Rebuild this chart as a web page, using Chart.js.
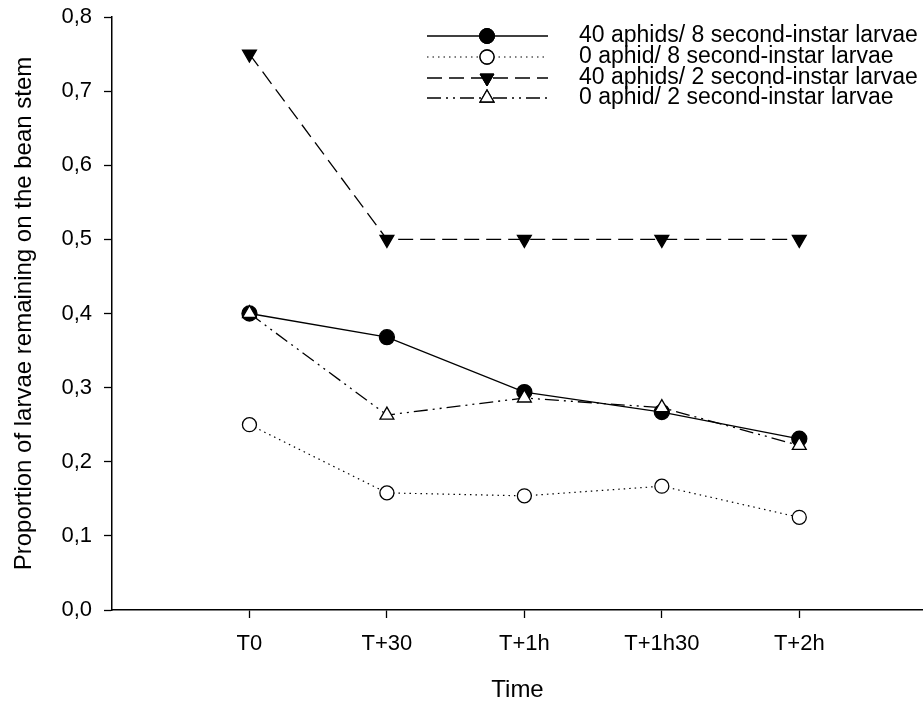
<!DOCTYPE html>
<html>
<head>
<meta charset="utf-8">
<script src="https://cdn.jsdelivr.net/npm/chart.js@4/dist/chart.umd.min.js"></script>
<style>
  html, body { margin: 0; padding: 0; background: #fff; }
  #wrap { width: 923px; height: 707px; position: relative; }
</style>
</head>
<body>
<div id="wrap"><canvas id="larvaeChart"></canvas></div>
<script>
// categories on the x axis
const timeLabels = ['T0', 'T+30', 'T+1h', 'T+1h30', 'T+2h'];

// proportion of larvae remaining
const aphids40Larvae8 = [0.400, 0.368, 0.294, 0.267, 0.231];
const aphids0Larvae8  = [0.250, 0.158, 0.154, 0.167, 0.125];
const aphids40Larvae2 = [0.750, 0.500, 0.500, 0.500, 0.500];
const aphids0Larvae2  = [0.400, 0.263, 0.286, 0.273, 0.222];

const seriesNames = [
  '40 aphids/ 8 second-instar larvae',
  '0 aphid/ 8 second-instar larvae',
  '40 aphids/ 2 second-instar larvae',
  '0 aphid/ 2 second-instar larvae'
];

const yTicks = [0, 0.1, 0.2, 0.3, 0.4, 0.5, 0.6, 0.7, 0.8];

const FONT = "'Liberation Sans', Arial, sans-serif";

function toPoints(values) {
  // x = index + 1 so the axis keeps an empty slot on the left
  return values.map((v, i) => ({ x: i + 1, y: v }));
}

const datasets = [
  {
    label: seriesNames[0],
    data: toPoints(aphids40Larvae8),
    borderColor: '#000',
    borderWidth: 1.3,
    pointStyle: 'circle',
    pointRadius: 7.5,
    pointBackgroundColor: '#000',
    pointBorderColor: '#000',
    order: 1
  },
  {
    label: seriesNames[1],
    data: toPoints(aphids0Larvae8),
    borderColor: '#000',
    borderWidth: 1.2,
    borderDash: [1.5, 4],
    pointStyle: 'circle',
    pointRadius: 7,
    pointBackgroundColor: '#fff',
    pointBorderColor: '#000',
    pointBorderWidth: 1.3,
    order: 2
  },
  {
    label: seriesNames[2],
    data: toPoints(aphids40Larvae2),
    borderColor: '#000',
    borderWidth: 1.3,
    borderDash: [15, 7],
    pointStyle: 'triangle',
    pointRotation: 180,
    pointRadius: 8,
    pointBackgroundColor: '#000',
    pointBorderColor: '#000',
    order: 3
  },
  {
    label: seriesNames[3],
    data: toPoints(aphids0Larvae2),
    borderColor: '#000',
    borderWidth: 1.3,
    borderDash: [14, 5, 2, 5, 2, 5],
    pointStyle: 'triangle',
    pointRadius: 8,
    pointBackgroundColor: '#fff',
    pointBorderColor: '#000',
    pointBorderWidth: 1.3,
    order: 0
  }
];

// legend in the upper right: line sample with the marker in the middle, then text
const lineLegend = {
  id: 'lineLegend',
  afterDraw(chart) {
    const ctx = chart.ctx;
    const x0 = 427, x1 = 548, xm = 487, tx = 579;
    const rows = [36, 57, 78, 98];
    ctx.save();
    datasets.forEach((ds, i) => {
      const y = rows[i];
      ctx.strokeStyle = ds.borderColor;
      ctx.lineWidth = ds.borderWidth;
      ctx.setLineDash(ds.borderDash || []);
      ctx.beginPath();
      ctx.moveTo(x0, y);
      ctx.lineTo(x1, y);
      ctx.stroke();
      ctx.setLineDash([]);
      ctx.lineWidth = ds.pointBorderWidth || 1;
      Chart.helpers.drawPoint(ctx, {
        pointStyle: ds.pointStyle,
        rotation: ds.pointRotation || 0,
        radius: ds.pointRadius,
        borderWidth: ds.pointBorderWidth || 1
      }, xm, y);
      ctx.fillStyle = ds.pointBackgroundColor;
      ctx.strokeStyle = ds.pointBorderColor;
      ctx.fill();
      ctx.stroke();
      ctx.fillStyle = '#000';
      ctx.font = '23px ' + FONT;
      ctx.textBaseline = 'middle';
      ctx.textAlign = 'left';
      ctx.fillText(ds.label, tx, y);
    });
    ctx.restore();
  }
};

new Chart(document.getElementById('larvaeChart'), {
  type: 'line',
  data: { datasets: datasets },
  plugins: [lineLegend],
  options: {
    responsive: true,
    maintainAspectRatio: false,
    animation: false,
    layout: { autoPadding: false, padding: { top: 17, right: 0, left: 0, bottom: 0 } },
    plugins: {
      legend: { display: false },
      tooltip: { enabled: false }
    },
    scales: {
      x: {
        type: 'linear',
        min: 0,
        max: 5.9,
        afterFit: (scale) => {
          scale.height = 97;
          scale.paddingLeft = 0;
          scale.paddingRight = 0;
        },
        afterBuildTicks: (scale) => {
          scale.ticks = timeLabels.map((_, i) => ({ value: i + 1 }));
        },
        ticks: {
          color: '#000',
          font: { family: FONT, size: 22 },
          padding: 13,
          maxRotation: 0,
          autoSkip: false,
          callback: (v) => timeLabels[v - 1] || ''
        },
        grid: { drawOnChartArea: false, drawTicks: true, tickLength: 8, color: '#000', tickWidth: 1.3 },
        border: { display: true, color: '#000', width: 1.5 },
        title: {
          display: true,
          text: 'Time',
          color: '#000',
          font: { family: FONT, size: 24 },
          padding: { top: 0, bottom: 2 }
        }
      },
      y: {
        min: 0,
        max: 0.8,
        afterFit: (scale) => {
          scale.width = 112;
          scale.paddingTop = 0;
          scale.paddingBottom = 0;
        },
        afterBuildTicks: (scale) => {
          scale.ticks = yTicks.map(v => ({ value: v }));
        },
        ticks: {
          color: '#000',
          font: { family: FONT, size: 22 },
          padding: 12,
          callback: (v) => v.toFixed(1).replace('.', ',')
        },
        grid: { drawOnChartArea: false, drawTicks: true, tickLength: 8, color: '#000', tickWidth: 1.3 },
        border: { display: true, color: '#000', width: 1.5 },
        title: {
          display: true,
          text: 'Proportion of larvae remaining on the bean stem',
          color: '#000',
          font: { family: FONT, size: 24 },
          padding: { top: 10, bottom: 0 }
        }
      }
    }
  }
});
</script>
</body>
</html>
